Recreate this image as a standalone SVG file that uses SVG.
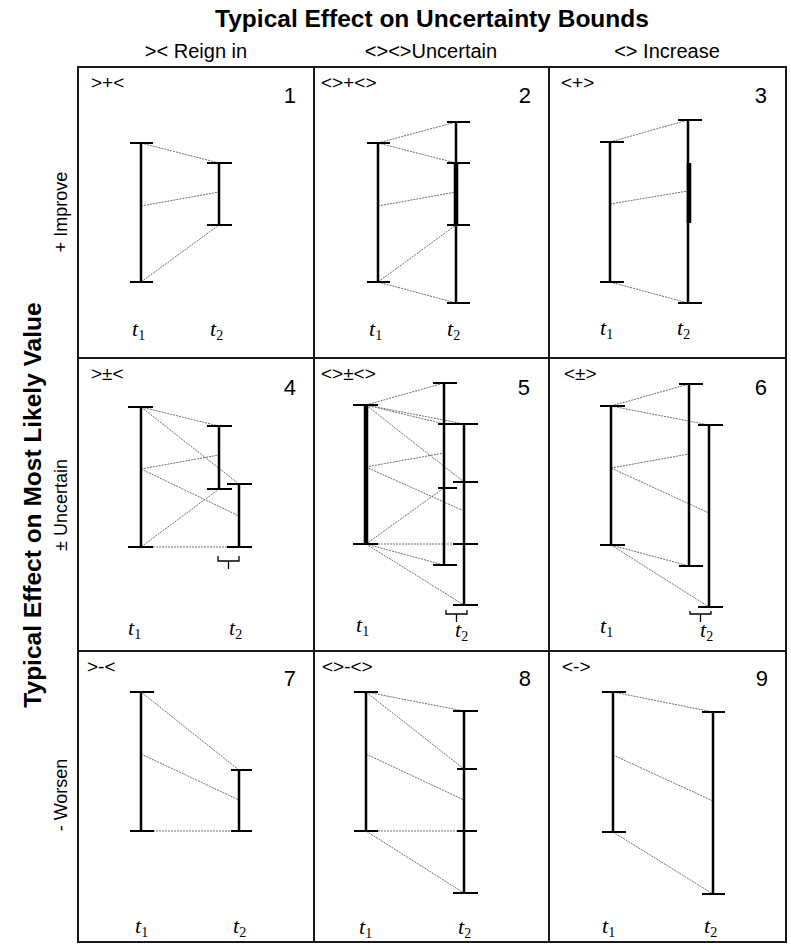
<svg xmlns="http://www.w3.org/2000/svg" width="791" height="951" viewBox="0 0 791 951">
<style>
  .bg { fill: #ffffff; }
  .grid { fill: none; stroke: #1a1a1a; stroke-width: 2; }
  .bar { fill: none; stroke: #000; stroke-width: 2.5; }
  .thick { fill: none; stroke: #000; stroke-width: 4.5; }
  .cap { fill: none; stroke: #000; stroke-width: 1.8; }
  .dot { fill: none; stroke: #707070; stroke-width: 1; stroke-dasharray: 2 1; }
  .brk { fill: none; stroke: #000; stroke-width: 1.3; }
  .title { font-family: "Liberation Sans", Arial, sans-serif; font-weight: bold; font-size: 24.5px; fill: #000; }
  .head { font-family: "Liberation Sans", Arial, sans-serif; font-size: 20px; fill: #000; }
  .row { font-family: "Liberation Sans", Arial, sans-serif; font-size: 18px; fill: #000; }
  .lab { font-family: "Liberation Sans", Arial, sans-serif; font-size: 19px; fill: #000; }
  .num { font-family: "Liberation Sans", Arial, sans-serif; font-size: 22px; fill: #000; }
  .t { font-family: "Liberation Serif", "Times New Roman", serif; font-style: italic; font-size: 22px; fill: #000; }
  .sub { font-style: normal; font-size: 14px; }
</style>
<rect class="bg" x="0" y="0" width="791" height="951"/>

<g id="headers">
  <text class="title" x="432" y="27" text-anchor="middle">Typical Effect on Uncertainty Bounds</text>
  <text class="head" x="196" y="58" text-anchor="middle">&gt;&lt; Reign in</text>
  <text class="head" x="431" y="58" text-anchor="middle">&lt;&gt;&lt;&gt;Uncertain</text>
  <text class="head" x="667" y="58" text-anchor="middle">&lt;&gt; Increase</text>
  <text class="title" transform="translate(41,505) rotate(-90)" text-anchor="middle">Typical Effect on Most Likely Value</text>
  <text class="row" transform="translate(67,212) rotate(-90)" text-anchor="middle">+ Improve</text>
  <text class="row" transform="translate(67,505) rotate(-90)" text-anchor="middle">± Uncertain</text>
  <text class="row" transform="translate(67,795) rotate(-90)" text-anchor="middle">- Worsen</text>
</g>

<g id="grid">
  <rect class="grid" x="78" y="67" width="708" height="875"/>
  <path class="grid" d="M314,67 V942 M549,67 V942 M78,358 H786 M78,651 H786"/>
</g>

<g id="connectors">
  <path class="dot" d="M141,143 L219,163 M141,206 L219,192 M141,282 L219,225"/>
  <path class="dot" d="M378,143 L456,122 M378,143 L456,163 M378,206 L456,192 M378,282 L456,225 M378,282 L456,303"/>
  <path class="dot" d="M610,142 L688,120 M610,204 L688,191 M610,282 L688,303"/>
  <path class="dot" d="M141,407 L219,426 M141,407 L239,484 M141,469 L219,455 M141,469 L239,516 M141,547 L219,489 M141,547 L239,547"/>
  <path class="dot" d="M366,405 L444,383 M366,405 L444,424 M366,405 L464,424 M366,405 L464,482 M366,467 L444,453 M366,467 L464,511 M366,544 L444,488 M366,544 L464,544 M366,544 L444,565 M366,544 L464,605"/>
  <path class="dot" d="M611,406 L689,384 M611,406 L709,425 M611,468 L689,454 M611,468 L709,513 M611,545 L689,566 M611,545 L709,607"/>
  <path class="dot" d="M141,692 L239,770 M141,754 L239,800 M141,831 L239,831"/>
  <path class="dot" d="M366,692 L464,711 M366,692 L464,769 M366,754 L464,800 M366,831 L464,831 M366,831 L464,893"/>
  <path class="dot" d="M613,692 L713,712 M613,755 L713,801 M613,832 L713,894"/>
</g>

<g id="cell1">
  <text class="lab" x="91" y="89">&gt;+&lt;</text>
  <text class="num" x="296" y="103" text-anchor="end">1</text>
  <path class="bar" d="M141,143 V282 M219,163 V225"/>
  <path class="cap" d="M130,143 H153 M130,282 H153 M207,163 H232 M207,225 H232"/>
  <text class="t" x="132" y="336">t<tspan class="sub" dy="4">1</tspan></text>
  <text class="t" x="210" y="336">t<tspan class="sub" dy="4">2</tspan></text>
</g>

<g id="cell2">
  <text class="lab" x="321" y="89">&lt;&gt;+&lt;&gt;</text>
  <text class="num" x="531" y="103" text-anchor="end">2</text>
  <path class="bar" d="M378,143 V282 M456,122 V303"/>
  <path class="thick" d="M456,163 V225"/>
  <path class="cap" d="M367,143 H390 M367,282 H390 M447,122 H470 M447,303 H470 M447,163 H470 M447,225 H470"/>
  <text class="t" x="369" y="336">t<tspan class="sub" dy="4">1</tspan></text>
  <text class="t" x="447" y="336">t<tspan class="sub" dy="4">2</tspan></text>
</g>

<g id="cell3">
  <text class="lab" x="561" y="89">&lt;+&gt;</text>
  <text class="num" x="767" y="103" text-anchor="end">3</text>
  <path class="bar" d="M610,142 V282 M688,120 V303"/>
  <path class="thick" d="M689,163 V223"/>
  <path class="cap" d="M600,142 H624 M600,282 H624 M678,120 H702 M678,303 H702"/>
  <text class="t" x="600" y="335">t<tspan class="sub" dy="4">1</tspan></text>
  <text class="t" x="677" y="335">t<tspan class="sub" dy="4">2</tspan></text>
</g>

<g id="cell4">
  <text class="lab" x="91" y="380">&gt;±&lt;</text>
  <text class="num" x="296" y="395" text-anchor="end">4</text>
  <path class="bar" d="M141,407 V547 M219,426 V489 M239,484 V547"/>
  <path class="cap" d="M128,407 H153 M128,547 H153 M207,426 H232 M207,489 H232 M227,484 H252 M227,547 H252"/>
  <path class="brk" d="M218,556 V561 H239 V556 M228.5,561 V569"/>
  <text class="t" x="128" y="635">t<tspan class="sub" dy="4">1</tspan></text>
  <text class="t" x="229" y="635">t<tspan class="sub" dy="4">2</tspan></text>
</g>

<g id="cell5">
  <text class="lab" x="321" y="380">&lt;&gt;±&lt;&gt;</text>
  <text class="num" x="530" y="395" text-anchor="end">5</text>
  <path class="thick" d="M366,405 V544"/>
  <path class="bar" d="M444,383 V565 M464,424 V605"/>
  <path class="cap" d="M353,405 H378 M353,544 H378 M433,383 H457 M433,565 H457 M438,424 H457 M438,488 H457 M453,424 H478 M453,605 H478 M453,482 H478 M453,544 H478"/>
  <path class="brk" d="M446,610 V614 H467 V610 M456.5,614 V622"/>
  <text class="t" x="356" y="632">t<tspan class="sub" dy="4">1</tspan></text>
  <text class="t" x="455" y="637">t<tspan class="sub" dy="4">2</tspan></text>
</g>

<g id="cell6">
  <text class="lab" x="564" y="380">&lt;±&gt;</text>
  <text class="num" x="767" y="395" text-anchor="end">6</text>
  <path class="bar" d="M611,406 V545 M689,384 V566 M709,425 V607"/>
  <path class="cap" d="M600,406 H625 M600,545 H625 M679,384 H703 M679,566 H703 M698,425 H723 M698,607 H723"/>
  <path class="brk" d="M690,611 V614 H711 V611 M700.5,614 V622"/>
  <text class="t" x="600" y="633">t<tspan class="sub" dy="4">1</tspan></text>
  <text class="t" x="700" y="637">t<tspan class="sub" dy="4">2</tspan></text>
</g>

<g id="cell7">
  <text class="lab" x="87" y="673">&gt;-&lt;</text>
  <text class="num" x="296" y="686" text-anchor="end">7</text>
  <path class="bar" d="M141,692 V831 M239,770 V831"/>
  <path class="cap" d="M130,692 H154 M130,831 H154 M231,770 H252 M231,831 H252"/>
  <text class="t" x="135" y="933">t<tspan class="sub" dy="4">1</tspan></text>
  <text class="t" x="233" y="933">t<tspan class="sub" dy="4">2</tspan></text>
</g>

<g id="cell8">
  <text class="lab" x="322" y="673">&lt;&gt;-&lt;&gt;</text>
  <text class="num" x="531" y="686" text-anchor="end">8</text>
  <path class="bar" d="M366,692 V831 M464,711 V893"/>
  <path class="cap" d="M354,692 H378 M354,831 H378 M453,711 H478 M453,893 H478 M457,769 H477 M457,831 H477"/>
  <text class="t" x="359" y="934">t<tspan class="sub" dy="4">1</tspan></text>
  <text class="t" x="458" y="934">t<tspan class="sub" dy="4">2</tspan></text>
</g>

<g id="cell9">
  <text class="lab" x="562" y="673">&lt;-&gt;</text>
  <text class="num" x="768" y="686" text-anchor="end">9</text>
  <path class="bar" d="M613,692 V832 M713,712 V894"/>
  <path class="cap" d="M602,692 H626 M602,832 H626 M702,712 H725 M702,894 H725"/>
  <text class="t" x="602" y="933">t<tspan class="sub" dy="4">1</tspan></text>
  <text class="t" x="704" y="933">t<tspan class="sub" dy="4">2</tspan></text>
</g>
</svg>
